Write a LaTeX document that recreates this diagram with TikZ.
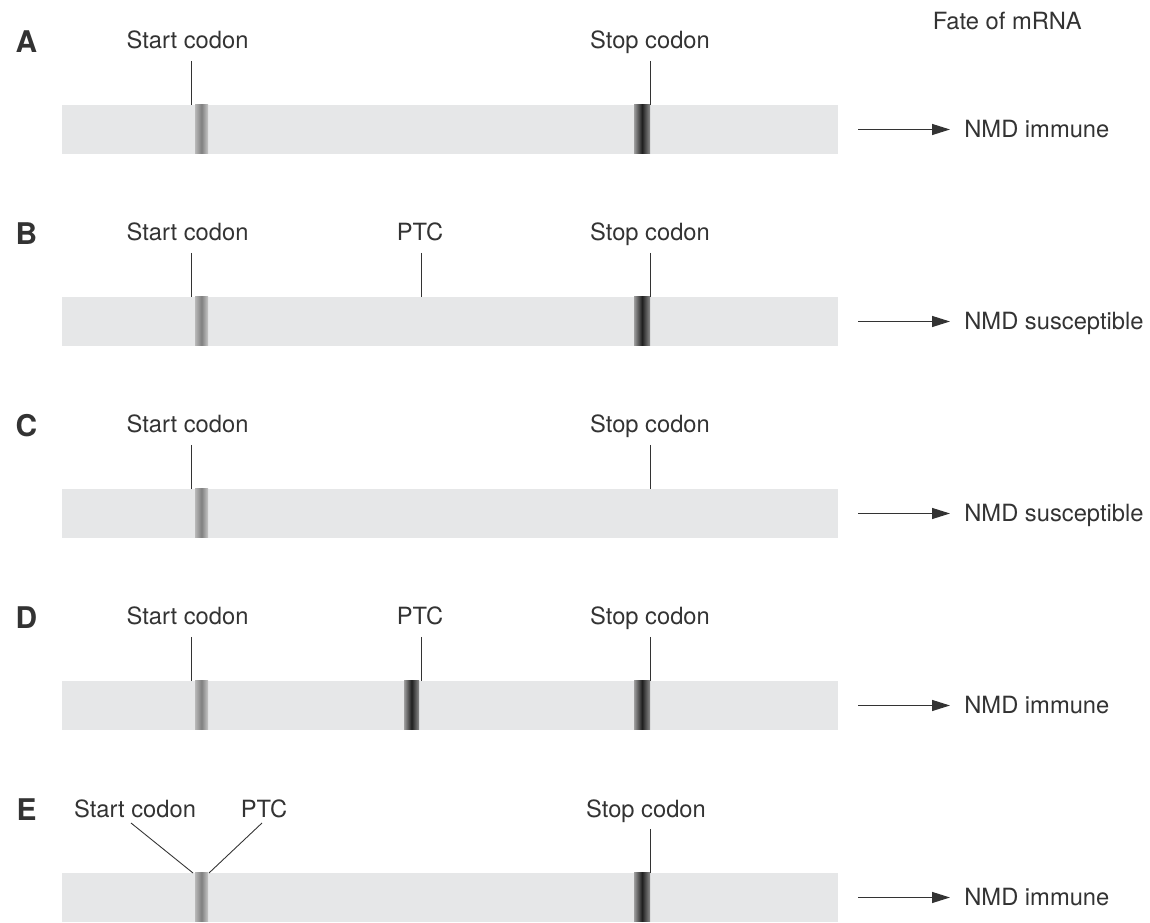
\documentclass[tikz,border=0pt]{standalone}
\usepackage{fontspec}
\setmainfont{TeX Gyre Heros}
\usepackage{xcolor}
\usetikzlibrary{arrows.meta,positioning}

\definecolor{bargray}{HTML}{E6E7E8}
\definecolor{inkgray}{HTML}{333333}

\tikzset{
  label/.style={anchor=base,inner sep=0pt,text=inkgray,font=\fontsize{13.5}{16}\selectfont},
  letter/.style={anchor=base,inner sep=0pt,text=inkgray,font=\fontsize{17}{20}\selectfont\bfseries},
  fate/.style={anchor=west,inner sep=0pt,text height=0.34cm,text depth=0pt,text=inkgray,font=\fontsize{13.5}{16}\selectfont},
  tick/.style={draw=inkgray,line width=0.5pt},
  fatearrow/.style={draw=inkgray,line width=0.7pt,-{Triangle[length=0.36cm,width=0.22cm]},shorten >=0.28cm},
  startband/.style={left color=black!28,right color=black!22,middle color=black!50},
  stopband/.style={left color=black!38,right color=black!45,middle color=black!88}
}

\begin{document}
\begin{tikzpicture}
\useasboundingbox (0,0) rectangle (23,18.44);

% row heights (bottom edge of each mRNA bar)
\def\ya{15.36}
\def\yb{11.52}
\def\yc{7.68}
\def\yd{3.84}
\def\ye{0}

% x positions of codons
\def\xs{3.82}
\def\xp{8.42}
\def\xt{13.0}

% Add column heading
\node[label,anchor=base east] (fatehead) at (21.64,17.84) {Fate of mRNA};

% Row A
\begin{scope}[yshift=\ya cm]
\fill[bargray] (1.24,0) rectangle (16.76,0.98);
\shade[startband] (3.90,0) rectangle (4.16,0.98);
\shade[stopband] (12.68,0) rectangle (13.0,0.98);
\node[letter] (letA) at (0.53,2.02) {A};
\node[label] (startA) at (3.75,2.10) {Start codon};
\node[label] (stopA) at (13.0,2.10) {Stop codon};
\coordinate (sA1) at (\xs,1.86); \coordinate (sA2) at (\xs,0.98);
\coordinate (tA1) at (\xt,1.86); \coordinate (tA2) at (\xt,0.98);
\draw[tick] (sA1) -- (sA2);
\draw[tick] (tA1) -- (tA2);
\coordinate (arrA) at (17.16,0.49);
\node[fate] (fateA) at (19.28,0.49) {NMD immune};
\draw[fatearrow] (arrA) -- (fateA.west);
\end{scope}

% Row B
\begin{scope}[yshift=\yb cm]
\fill[bargray] (1.24,0) rectangle (16.76,0.98);
\shade[startband] (3.90,0) rectangle (4.16,0.98);
\shade[stopband] (12.68,0) rectangle (13.0,0.98);
\node[letter] (letB) at (0.53,2.02) {B};
\node[label] (startB) at (3.75,2.10) {Start codon};
\node[label] (ptcB) at (8.40,2.10) {PTC};
\node[label] (stopB) at (13.0,2.10) {Stop codon};
\coordinate (sB1) at (\xs,1.86); \coordinate (sB2) at (\xs,0.98);
\coordinate (pB1) at (\xp,1.86); \coordinate (pB2) at (\xp,0.98);
\coordinate (tB1) at (\xt,1.86); \coordinate (tB2) at (\xt,0.98);
\draw[tick] (sB1) -- (sB2);
\draw[tick] (pB1) -- (pB2);
\draw[tick] (tB1) -- (tB2);
\coordinate (arrB) at (17.16,0.49);
\node[fate] (fateB) at (19.28,0.49) {NMD susceptible};
\draw[fatearrow] (arrB) -- (fateB.west);
\end{scope}

% Row C
\begin{scope}[yshift=\yc cm]
\fill[bargray] (1.24,0) rectangle (16.76,0.98);
\shade[startband] (3.90,0) rectangle (4.16,0.98);
\node[letter] (letC) at (0.53,2.02) {C};
\node[label] (startC) at (3.75,2.10) {Start codon};
\node[label] (stopC) at (13.0,2.10) {Stop codon};
\coordinate (sC1) at (\xs,1.86); \coordinate (sC2) at (\xs,0.98);
\coordinate (tC1) at (\xt,1.86); \coordinate (tC2) at (\xt,0.98);
\draw[tick] (sC1) -- (sC2);
\draw[tick] (tC1) -- (tC2);
\coordinate (arrC) at (17.16,0.49);
\node[fate] (fateC) at (19.28,0.49) {NMD susceptible};
\draw[fatearrow] (arrC) -- (fateC.west);
\end{scope}

% Row D
\begin{scope}[yshift=\yd cm]
\fill[bargray] (1.24,0) rectangle (16.76,0.98);
\shade[startband] (3.90,0) rectangle (4.16,0.98);
\shade[stopband] (8.08,0) rectangle (8.38,0.98);
\shade[stopband] (12.68,0) rectangle (13.0,0.98);
\node[letter] (letD) at (0.53,2.02) {D};
\node[label] (startD) at (3.75,2.10) {Start codon};
\node[label] (ptcD) at (8.40,2.10) {PTC};
\node[label] (stopD) at (13.0,2.10) {Stop codon};
\coordinate (sD1) at (\xs,1.86); \coordinate (sD2) at (\xs,0.98);
\coordinate (pD1) at (\xp,1.86); \coordinate (pD2) at (\xp,0.98);
\coordinate (tD1) at (\xt,1.86); \coordinate (tD2) at (\xt,0.98);
\draw[tick] (sD1) -- (sD2);
\draw[tick] (pD1) -- (pD2);
\draw[tick] (tD1) -- (tD2);
\coordinate (arrD) at (17.16,0.49);
\node[fate] (fateD) at (19.28,0.49) {NMD immune};
\draw[fatearrow] (arrD) -- (fateD.west);
\end{scope}

% Row E
\begin{scope}[yshift=\ye cm]
\fill[bargray] (1.24,0) rectangle (16.76,0.98);
\shade[startband] (3.90,0) rectangle (4.16,0.98);
\shade[stopband] (12.68,0) rectangle (13.0,0.98);
\node[letter] (letE) at (0.53,2.02) {E};
\node[label] (startE) at (2.70,2.08) {Start codon};
\node[label] (ptcE) at (5.28,2.08) {PTC};
\node[label] (stopE) at (12.92,2.08) {Stop codon};
\coordinate (sE1) at (2.62,1.98); \coordinate (sE2) at (3.86,0.98);
\coordinate (pE1) at (5.24,1.98); \coordinate (pE2) at (4.18,0.98);
\coordinate (tE1) at (\xt,1.86); \coordinate (tE2) at (\xt,0.98);
\draw[tick] (sE1) -- (sE2);
\draw[tick] (pE1) -- (pE2);
\draw[tick] (tE1) -- (tE2);
\coordinate (arrE) at (17.16,0.49);
\node[fate] (fateE) at (19.28,0.49) {NMD immune};
\draw[fatearrow] (arrE) -- (fateE.west);
\end{scope}

\end{tikzpicture}
\end{document}
